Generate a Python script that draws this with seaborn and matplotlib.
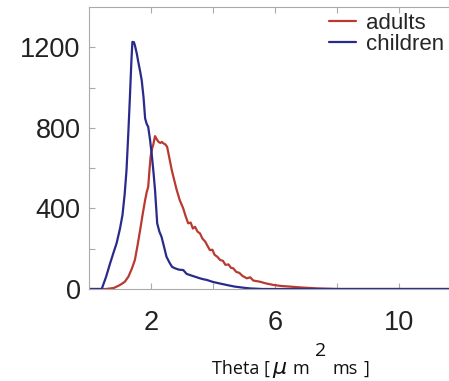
import numpy as np
import pandas as pd
import matplotlib
matplotlib.use("Agg")
import matplotlib.pyplot as plt
from matplotlib.ticker import FixedLocator
import seaborn as sns

# ---- data ----
children_theta = [0, 0.41, 0.55, 0.68, 0.80, 0.89, 1.00, 1.08, 1.15, 1.21, 1.27, 1.32, 1.37, 1.40,
                  1.45, 1.48, 1.54, 1.59, 1.65, 1.70, 1.76, 1.81, 1.86, 1.91, 1.97, 2.02, 2.08, 2.13,
                  2.20, 2.27, 2.34, 2.42, 2.50, 2.60, 2.68, 2.77, 2.90, 3.04, 3.15, 3.26, 3.40, 3.58,
                  3.70, 3.80, 4.0, 4.2, 4.44, 4.7, 5.0, 5.19, 5.6, 12]
children_count = [0, 0, 60, 127, 185, 227, 300, 367, 470, 590, 780, 954, 1140, 1227,
                  1225, 1210, 1170, 1127, 1080, 1037, 950, 847, 820, 805, 740, 673, 580, 491,
                  326, 285, 259, 210, 160, 130, 110, 103, 96, 94, 75, 69, 62, 53,
                  48, 45, 35, 28, 20, 12, 6, 3, 0, 0]

adults_theta = [0, 0.55, 0.8, 1.0, 1.15, 1.27, 1.38, 1.48, 1.57, 1.65, 1.73, 1.81, 1.86, 1.91,
                1.95, 1.99, 2.04, 2.07, 2.13, 2.18, 2.24, 2.30, 2.35, 2.40, 2.46, 2.52, 2.58,
                2.67, 2.75, 2.83, 2.93, 3.04, 3.12, 3.20, 3.28, 3.35, 3.42, 3.50, 3.58, 3.66,
                3.75, 3.82, 3.90, 3.98, 4.05, 4.14, 4.23, 4.32, 4.40, 4.50, 4.58, 4.65, 4.75,
                4.85, 4.95, 5.09, 5.2, 5.3, 5.52, 5.7, 5.95, 6.2, 6.48, 6.8, 7.35, 8.0, 12]
adults_count = [0, 0, 5, 20, 35, 61, 100, 144, 220, 293, 370, 441, 480, 507,
                590, 660, 700, 714, 759, 745, 731, 725, 730, 723, 718, 706, 660,
                590, 540, 491, 440, 400, 360, 326, 330, 300, 309, 285, 276, 250,
                235, 215, 193, 195, 170, 160, 144, 140, 120, 122, 105, 103, 85,
                80, 65, 53, 58, 42, 36, 28, 20, 15, 12, 8, 3, 0, 0]

groups = ["adults", "children"]
colors = {"adults": "#b83a30", "children": "#2a2a8c"}

y_major = [0, 400, 800, 1200]
x_major = [2, 6, 10]

df = pd.concat([
    pd.DataFrame({"theta": adults_theta, "count": adults_count, "group": "adults"}),
    pd.DataFrame({"theta": children_theta, "count": children_count, "group": "children"}),
], ignore_index=True)

sns.set_theme(style="white")
plt.rcParams["font.family"] = ["Liberation Sans", "DejaVu Sans"]

W, H = 449, 381
fig = plt.figure(figsize=(W / 100, H / 100), dpi=100)
ax = fig.add_axes([89 / W, (H - 289) / H, 372 / W, (289 - 7) / H])

sns.lineplot(data=df, x="theta", y="count", hue="group", hue_order=groups,
             palette=colors, linewidth=1.6, ax=ax, sort=False, estimator=None)

ax.set_xlim(0, 12)
ax.set_ylim(0, 1400)

ax.yaxis.set_major_locator(FixedLocator(y_major))
ax.yaxis.set_minor_locator(FixedLocator([200, 600, 1000]))
ax.xaxis.set_major_locator(FixedLocator(x_major))
ax.xaxis.set_minor_locator(FixedLocator([4, 8]))

ax.tick_params(axis="both", which="both", direction="in", length=4, width=0.8,
               color="#aaaaaa", labelcolor="#222222", labelsize=19.5)
ax.tick_params(axis="x", which="both", top=True, bottom=True, pad=15)
ax.tick_params(axis="y", which="both", left=True, pad=6)

for s in ax.spines.values():
    s.set_color("#aaaaaa")
    s.set_linewidth(0.8)

ax.set_xlabel("")
ax.set_ylabel("")

leg = ax.legend(loc="upper left", bbox_to_anchor=(329 / W, (H - 13) / H),
                bbox_transform=fig.transFigure, frameon=False, fontsize=16,
                handlelength=1.2, handletextpad=0.45, labelspacing=0.0,
                borderpad=0, borderaxespad=0)
for line in leg.get_lines():
    line.set_linewidth(1.6)

# x-axis label pieces (pixel coordinates)
def px(x, y):
    return x / W, (H - y) / H

lab = dict(fontsize=13, va="baseline", family=["Open Sans", "DejaVu Sans"], color="#111111")
fig.text(*px(212, 374), "Theta [", ha="left", **lab)
fig.text(*px(272, 374), "$\\mu$", fontsize=16, ha="left", va="baseline", color="#111111")
fig.text(*px(292, 374), "m", ha="left", **lab)
fig.text(*px(321, 351), "2", fontsize=14, ha="center", va="center",
         family=["Open Sans", "DejaVu Sans"], color="#111111")
fig.text(*px(333, 374), "ms", ha="left", **lab)
fig.text(*px(364, 374), "]", ha="left", **lab)

fig.savefig("out.png", dpi=100)
